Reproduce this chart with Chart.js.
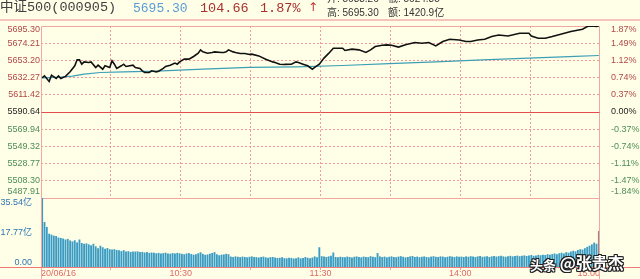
<!DOCTYPE html>
<html>
<head>
<meta charset="utf-8">
<script src="https://cdn.jsdelivr.net/npm/chart.js@4.4.0/dist/chart.umd.min.js"></script>
<style>
html,body{margin:0;padding:0;background:#ffffe8;width:640px;height:279px;overflow:hidden;}
#wrap{position:relative;width:640px;height:279px;}
canvas{position:absolute;left:0;top:0;}
.t{position:absolute;white-space:nowrap;line-height:1;}
.mono{font-family:'Liberation Mono','Noto Sans CJK SC',monospace;}
.sm{font-family:'Liberation Sans','Noto Sans CJK SC',sans-serif;font-size:10px;color:#333;}
.wm{position:absolute;white-space:nowrap;line-height:1;font-family:'Noto Sans CJK SC',sans-serif;color:#fff;font-weight:bold;
 text-shadow:1px 0 0 #222,-1px 0 0 #222,0 1px 0 #222,0 -1px 0 #222,1px 1px 0 #222,-1px -1px 0 #222,1px -1px 0 #222,-1px 1px 0 #222;}
#hl{position:absolute;left:0;top:19px;width:640px;height:2px;background:#f6c4bc;}
</style>
</head>
<body>
<div id="wrap">
<canvas id="cp" width="640" height="279"></canvas>
<canvas id="cv" width="640" height="279"></canvas>
<div class="t mono" style="left:0;top:1px;font-size:13.5px;color:#404040">中证500(000905)</div>
<div class="t mono" style="left:133px;top:1.5px;font-size:13px;color:#5b9bd5">5695.30</div>
<div class="t mono" style="left:200px;top:1.5px;font-size:13.5px;color:#a83232">104.66</div>
<div class="t mono" style="left:260px;top:1.5px;font-size:13.5px;color:#a83232">1.87%</div>
<div class="t" style="left:308px;top:1px;font-size:12px;color:#c03030;font-family:'DejaVu Sans',sans-serif">↑</div>
<div class="t sm" style="left:327px;top:-6px">开: 5633.26</div>
<div class="t sm" style="left:388px;top:-6px">低: 5624.85</div>
<div class="t sm" style="left:327px;top:8px">高: 5695.30</div>
<div class="t sm" style="left:388px;top:8px">额: 1420.9亿</div>
<div id="hl"></div>
<div class="wm" style="left:530px;top:255px;"><span style="font-size:13px">头条</span> <span style="font-size:16px;position:relative;top:-1px">@张贵杰</span></div>
</div>
<script>
// ---- data ----
const prevClose = 5590.64;
const priceTicks = [5487.91,5508.30,5528.77,5549.32,5569.94,5590.64,5611.42,5632.27,5653.20,5674.21,5695.30];
const pctLabels = ['-1.84%','-1.47%','-1.11%','-0.74%','-0.37%','0.00%','0.37%','0.74%','1.12%','1.49%','1.87%'];
const volTicks = [0, 17.77, 35.54];
const volLabels = ['0.00','17.77亿','35.54亿'];
const timeTicks = [0.5,30.5,60.5,90.5,120.5,150.5,180.5,210.5,240.5];
const timeLabels = ['20/06/16','','10:30','','11:30','','14:00','','15:00'];

const priceMinutes = [
 1,2,4,5,7,8,9,11,13,15,
 16,17,18,19,21,22,24,25,27,28,
 30,31,32,33,35,36,37,40,41,43,
 44,45,47,48,50,51,53,54,56,58,
 59,60,62,64,66,68,69,70,72,74,
 75,78,79,80,81,83,84,86,88,90,
 91,94,97,100,101,103,105,108,110,111,
 113,115,117,118,120,122,124,126,128,130,
 131,134,137,140,142,144,147,149,151,154,
 157,161,164,167,170,173,176,180,183,185,
 188,191,194,197,201,206,210,211,214,217,
 220,224,228,233,235,237,239,240];
const priceValues = [
 5632.0,5634.4,5627.6,5635.2,5631.2,5634.4,5631.2,5633.7,5639.3,5646.6,
 5653.9,5653.9,5648.6,5651.4,5650.7,5651.4,5644.6,5647.4,5642.5,5646.6,
 5644.6,5652.7,5648.6,5643.4,5646.6,5648.6,5645.8,5647.4,5644.6,5643.4,
 5640.5,5638.5,5638.5,5640.5,5639.3,5640.1,5643.4,5645.8,5647.4,5649.9,
 5648.6,5651.4,5654.7,5654.7,5658.0,5662.0,5666.1,5663.6,5662.0,5662.9,
 5663.6,5662.9,5662.9,5663.6,5666.1,5663.6,5662.9,5661.7,5661.7,5660.5,
 5660.8,5658.7,5654.7,5651.4,5650.7,5648.6,5648.3,5648.6,5651.4,5650.7,
 5648.6,5646.6,5642.5,5644.6,5648.6,5656.0,5661.7,5668.1,5668.1,5668.1,
 5665.3,5666.9,5666.1,5662.9,5666.1,5670.2,5671.8,5672.2,5671.8,5669.4,
 5672.2,5675.1,5674.2,5675.1,5670.9,5676.3,5679.1,5678.2,5676.3,5676.3,
 5678.2,5679.1,5682.4,5684.3,5683.1,5686.4,5686.4,5683.1,5680.3,5680.3,
 5682.4,5685.6,5688.5,5691.3,5694.6,5695.3,5694.9,5695.3];

const avgMinutes = [1,9,14,19,26,36,50,70,90,110,130,150,170,190,210,230,240];
const avgValues = [5632.0,5632.8,5634.0,5636.5,5638.5,5639.3,5640.1,5642.5,5644.6,5645.2,5647.0,5649.2,5651.4,5653.8,5655.9,5658.1,5659.2];

// volume per minute (亿), minutes 1..240
const volumes = [
 35.54,23.0,20.5,17.0,16.5,16.0,15.8,15.0,14.8,14.5,
 14.0,14.3,13.5,13.0,13.6,12.5,14.0,12.2,11.8,12.0,
 11.5,11.0,11.8,10.5,9.5,10.8,10.0,9.2,9.6,9.0,
 8.8,9.0,8.6,8.4,8.0,8.5,7.8,8.0,7.6,7.8,
 7.8,7.9,7.5,7.6,7.3,7.5,7.1,7.3,7.2,6.9,
 7.1,6.8,7.0,7.2,6.8,6.7,7.0,6.8,7.1,6.9,
 6.6,6.4,6.8,7.0,6.5,6.2,6.4,6.9,7.4,6.6,
 6.1,6.3,6.7,7.1,7.5,6.4,5.9,6.2,6.3,6.6,
 6.4,5.2,5.0,5.3,5.1,4.9,5.2,5.0,4.8,5.1,
 5.3,5.0,4.9,4.7,5.0,5.2,4.8,4.6,4.9,5.0,
 4.7,4.5,4.6,4.8,4.4,4.3,4.6,4.5,4.2,4.4,
 4.8,4.3,4.5,5.0,4.6,4.4,4.7,5.3,4.8,10.0,
 5.4,5.2,5.0,5.3,5.6,7.3,5.0,4.8,5.1,5.0,
 4.9,5.2,5.0,4.7,5.1,5.3,5.0,4.8,5.2,5.0,
 4.9,5.4,5.1,4.9,7.0,5.3,5.0,5.2,4.8,5.1,
 5.3,5.0,4.9,5.2,5.4,5.1,4.8,5.0,5.3,5.5,
 5.0,5.2,4.9,5.1,5.3,5.0,4.8,5.2,5.4,5.1,
 5.0,5.3,5.2,4.9,5.1,5.4,5.2,5.0,5.3,5.1,
 5.2,5.0,5.3,5.1,5.4,5.2,5.0,5.3,5.5,5.1,
 5.2,5.4,5.0,5.3,5.5,5.2,5.4,5.6,5.3,5.1,
 5.4,5.6,5.3,5.5,5.7,5.4,5.6,5.8,5.5,5.7,
 6.0,5.6,5.8,6.1,5.9,6.2,6.0,6.4,6.2,6.5,
 6.8,6.4,6.9,7.2,6.8,7.5,7.2,7.8,8.2,7.9,
 8.6,9.0,8.8,9.5,10.2,10.8,11.5,12.4,11.8,18.4];

// ---- styles ----
const GRID = '#f29a9a', BORDER = '#f2a6a2', RED = '#e44c4c';
const UP = '#b24848', FLAT = '#1e1e1e', DOWN = '#4e8c58';
const BAR = '#3a9cc4', LAST_BAR = '#8c8c8c', TIME = '#e06868', VOLTXT = '#2f74b5';
const TR = 'rgba(0,0,0,0)';

Chart.defaults.font.family = "'Liberation Sans','Noto Sans CJK SC',sans-serif";
Chart.defaults.font.size = 9;
Chart.defaults.animation = false;

const setTicks = arr => s => { s.ticks = arr.map(v => ({value: v})); };
const fixW = w => s => { s.width = w; s.paddingTop = 0; s.paddingBottom = 0; };
const tickColor = i => i > 5 ? UP : (i === 5 ? FLAT : DOWN);
const edge = (s, i, n) => i === n - 1 ? ['', s] : (i === 0 ? [s, '', ''] : s);

const framePrice = {
  id: 'framePrice',
  beforeDatasetsDraw(c) {
    const {ctx, chartArea: a} = c;
    const L = Math.round(a.left) + 0.5, R = Math.round(a.right) - 0.5;
    const T = Math.round(a.top) + 0.5, B = Math.round(a.bottom) + 0.5;
    ctx.save();
    ctx.lineWidth = 1;
    ctx.strokeStyle = BORDER;
    ctx.beginPath();
    ctx.moveTo(L, T); ctx.lineTo(R, T);
    ctx.moveTo(L, B); ctx.lineTo(R, B);
    ctx.moveTo(L, T); ctx.lineTo(L, B);
    ctx.moveTo(R, T); ctx.lineTo(R, B);
    ctx.stroke();
    const y = Math.round(c.scales.y.getPixelForValue(prevClose)) + 0.5;
    ctx.strokeStyle = RED;
    ctx.beginPath(); ctx.moveTo(L, y); ctx.lineTo(R, y); ctx.stroke();
    ctx.restore();
  }
};

const frameVol = {
  id: 'frameVol',
  afterDatasetsDraw(c) {
    const {ctx, chartArea: a, width, height} = c;
    const L = Math.round(a.left) + 0.5, R = Math.round(a.right) - 0.5;
    const T = Math.round(a.top), B = Math.round(a.bottom) + 0.5;
    ctx.save();
    ctx.lineWidth = 1;
    ctx.strokeStyle = BORDER;
    ctx.beginPath();
    ctx.moveTo(L, T); ctx.lineTo(L, height);
    ctx.moveTo(R, T); ctx.lineTo(R, height);
    ctx.stroke();
    ctx.strokeStyle = '#ef7a78';
    ctx.beginPath(); ctx.moveTo(0, B); ctx.lineTo(width, B); ctx.stroke();
    ctx.restore();
  }
};

new Chart(document.getElementById('cp'), {
  type: 'line',
  data: {
    datasets: [
      { data: priceMinutes.map((m, k) => ({x: m, y: priceValues[k]})),
        borderColor: '#111', borderWidth: 1.6, pointRadius: 0, tension: 0, yAxisID: 'y', order: 1 },
      { data: avgMinutes.map((m, k) => ({x: m, y: avgValues[k]})),
        borderColor: '#3d9fb6', borderWidth: 1.2, pointRadius: 0, tension: 0, yAxisID: 'y', order: 2 }
    ]
  },
  options: {
    responsive: false, animation: false,
    layout: {padding: {top: 26, bottom: 81, left: 0, right: 0}},
    plugins: {legend: {display: false}, tooltip: {enabled: false}},
    scales: {
      x: {
        type: 'linear', min: timeTicks[0], max: timeTicks[timeTicks.length - 1],
        afterBuildTicks: setTicks(timeTicks),
        afterFit: s => { s.height = 0; s.paddingLeft = 0; s.paddingRight = 0; },
        ticks: {display: false},
        grid: {drawTicks: false, lineWidth: 1,
               color: c => (c.index === 0 || c.index === timeTicks.length - 1) ? TR : GRID},
        border: {display: false, dash: [2, 2]}
      },
      y: {
        type: 'logarithmic', position: 'left',
        min: priceTicks[0], max: priceTicks[priceTicks.length - 1],
        afterBuildTicks: setTicks(priceTicks),
        afterFit: fixW(41),
        ticks: {autoSkip: false, padding: 1, font: {size: 9, lineHeight: 0.733},
                color: c => tickColor(c.index),
                callback: (v, i) => edge(priceTicks[i].toFixed(2), i, priceTicks.length)},
        grid: {drawTicks: false, lineWidth: 1,
               color: c => (c.index === 0 || c.index === 5 || c.index === priceTicks.length - 1) ? TR : GRID},
        border: {display: false, dash: [2, 2]}
      },
      yR: {
        type: 'logarithmic', position: 'right',
        min: priceTicks[0], max: priceTicks[priceTicks.length - 1],
        afterBuildTicks: setTicks(priceTicks),
        afterFit: fixW(40),
        ticks: {autoSkip: false, padding: 3, font: {size: 9, lineHeight: 0.733},
                color: c => tickColor(c.index),
                callback: (v, i) => edge(pctLabels[i], i, pctLabels.length)},
        grid: {display: false},
        border: {display: false}
      }
    }
  },
  plugins: [framePrice]
});

new Chart(document.getElementById('cv'), {
  type: 'bar',
  data: {
    datasets: [{
      data: volumes.map((v, k) => ({x: k + 1, y: v})),
      backgroundColor: c => c.dataIndex === volumes.length - 1 ? LAST_BAR : BAR,
      barThickness: 1.2, borderWidth: 0, xAxisID: 'x', yAxisID: 'yv'
    }]
  },
  options: {
    responsive: false, animation: false,
    layout: {padding: {top: 198, bottom: 0, left: 0, right: 40}},
    plugins: {legend: {display: false}, tooltip: {enabled: false}},
    scales: {
      x: {
        type: 'linear', min: timeTicks[0], max: timeTicks[timeTicks.length - 1], offset: false,
        afterBuildTicks: setTicks(timeTicks),
        afterFit: s => { s.height = 12; s.paddingLeft = 0; s.paddingRight = 0; },
        ticks: {autoSkip: false, maxRotation: 0, minRotation: 0, align: 'inner', padding: -2,
                color: TIME, font: {size: 9}, callback: (v, i) => timeLabels[i]},
        grid: {offset: false, drawOnChartArea: false, drawTicks: true, tickLength: 3, tickColor: BORDER},
        border: {display: false}
      },
      yv: {
        type: 'linear', position: 'left', min: volTicks[0], max: volTicks[volTicks.length - 1],
        afterBuildTicks: setTicks(volTicks),
        afterFit: fixW(41),
        ticks: {autoSkip: false, padding: 1, color: VOLTXT, font: {size: 9, lineHeight: 1.1},
                callback: (v, i) => i === volTicks.length - 1 ? ['', volLabels[i]] : (i === 0 ? [volLabels[i], ''] : volLabels[i])},
        grid: {display: false},
        border: {display: false}
      }
    }
  },
  plugins: [frameVol]
});
</script>
</body>
</html>
